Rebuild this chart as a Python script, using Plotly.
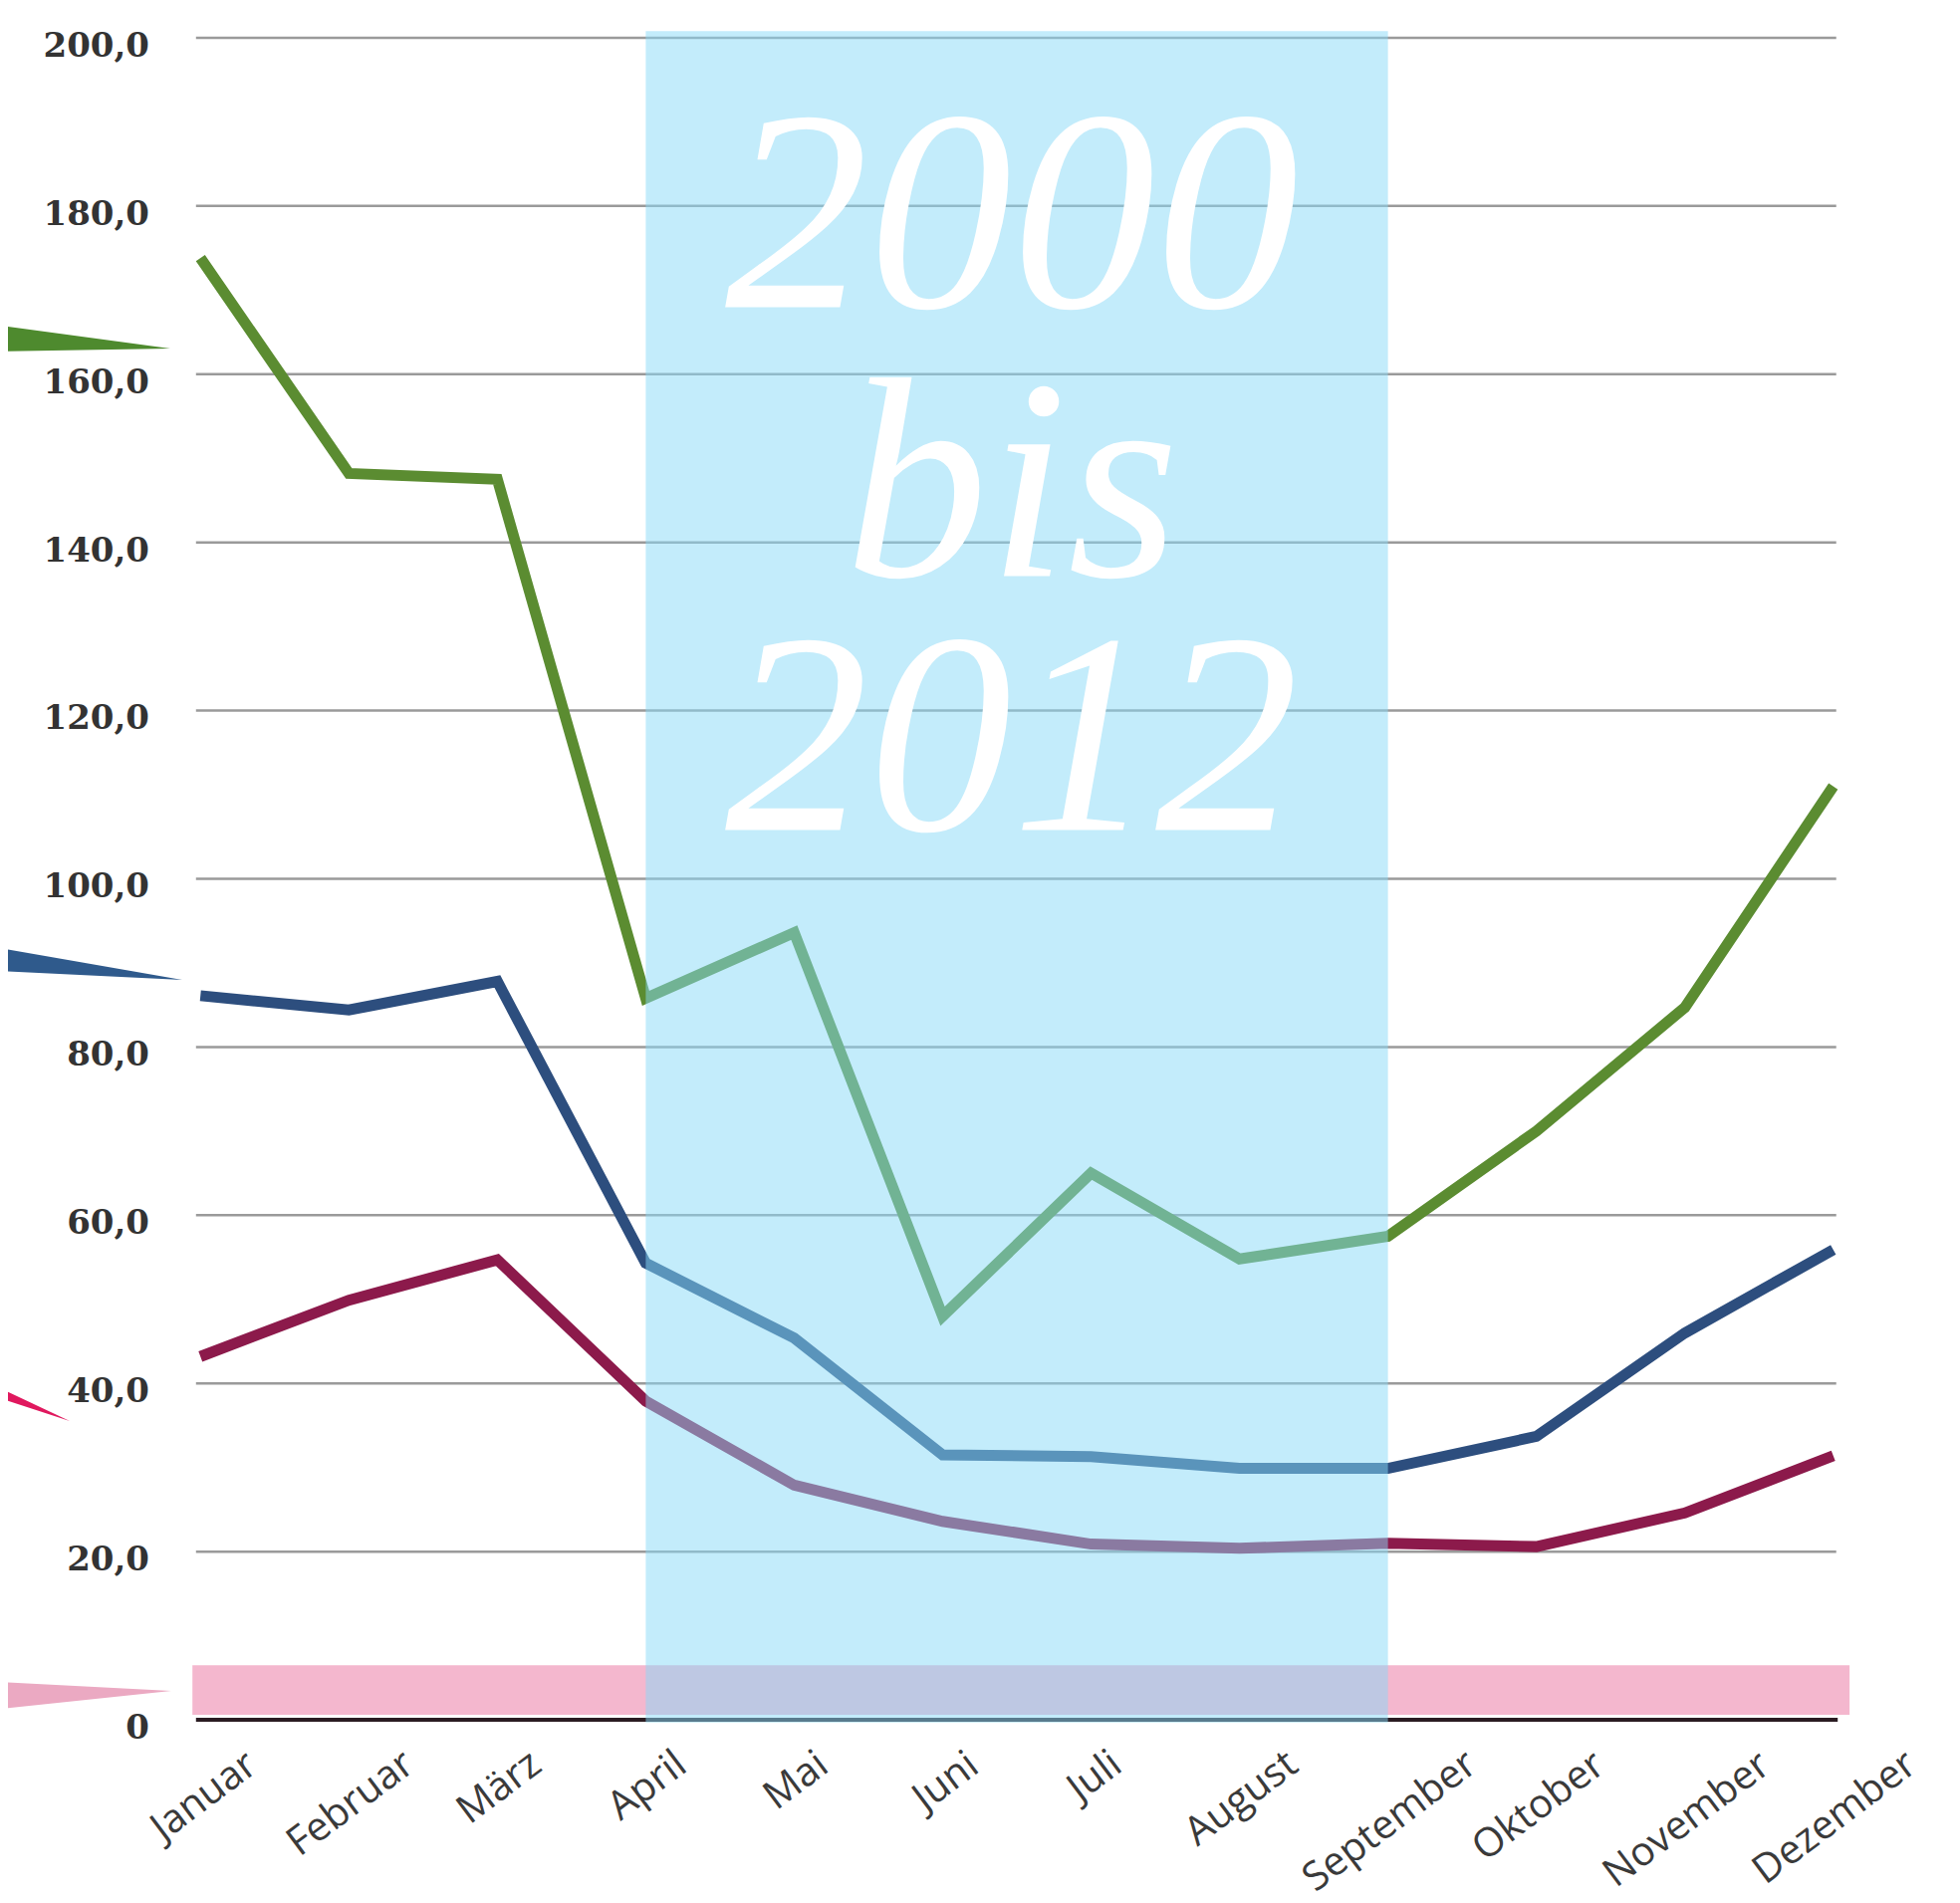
import plotly.graph_objects as go

# ---------------- data ----------------
months = ["Januar", "Februar", "März", "April", "Mai", "Juni", "Juli",
          "August", "September", "Oktober", "November", "Dezember"]
green_vals = [173.8, 148.2, 147.5, 85.8, 93.6, 48.0, 65.0, 54.8, 57.5, 70.0, 84.7, 111.0]
blue_vals = [86.1, 84.4, 87.8, 54.3, 45.4, 31.5, 31.3, 29.9, 29.9, 33.7, 46.0, 55.9]
red_vals = [43.2, 49.9, 54.7, 37.9, 27.9, 23.6, 20.9, 20.4, 21.0, 20.6, 24.6, 31.4]

y_ticks = [0, 20, 40, 60, 80, 100, 120, 140, 160, 180, 200]
y_ticktext = ["0", "20,0", "40,0", "60,0", "80,0", "100,0", "120,0",
              "140,0", "160,0", "180,0", "200,0"]
period_lines = ["2000", "bis", "2012"]
period_y = [179.5, 147.5, 117.4]
period_start, period_end = 3, 8

# ---------------- layout geometry (page pixels) ----------------
PAGE_W, PAGE_H = 1968, 1911
OFF = 8                      # default body margin of the html page
W_FIG, H_FIG = PAGE_W - OFF, PAGE_H - OFF
L, R = 164, 1878             # plot area left/right (page px)
T, B = 21, 1744              # plot area top/bottom (page px)
PW, PH = R - L, B - T


def px(xp):
    return (xp - L) / PW


def py(yp):
    return (B - yp) / PH


GREEN = "#5B8C31"
BLUE = "#2D4E7E"
RED = "#8C1A4B"

fig = go.Figure()
for vals, col in [(green_vals, GREEN), (blue_vals, BLUE), (red_vals, RED)]:
    fig.add_trace(go.Scatter(
        x=list(range(len(months))), y=vals, mode="lines",
        line=dict(color=col, width=11), hoverinfo="skip", showlegend=False))

shapes = []
for v in y_ticks[1:]:
    shapes.append(dict(type="line", xref="x", yref="y", x0=-0.03, x1=11.02,
                       y0=v, y1=v, line=dict(color="#9a9a9a", width=2.5),
                       layer="below"))
shapes.append(dict(type="rect", xref="x", yref="y", x0=-0.054, x1=11.11,
                   y0=0.6, y1=6.5, fillcolor="#F4B7CE", line=dict(width=0),
                   layer="below"))
shapes.append(dict(type="line", xref="x", yref="y", x0=-0.03, x1=11.03,
                   y0=0, y1=0, line=dict(color="#2a1c22", width=4),
                   layer="below"))
shapes.append(dict(type="rect", xref="x", yref="y", x0=period_start, x1=period_end,
                   y0=-0.3, y1=200.8, fillcolor="rgba(135,218,247,0.5)",
                   line=dict(width=0), layer="above"))


def wedge(pts, color):
    d = "M " + " L ".join(f"{px(a):.5f},{py(b):.5f}" for a, b in pts) + " Z"
    return dict(type="path", xref="paper", yref="paper", path=d,
                fillcolor=color, line=dict(width=0), layer="above")


shapes.append(wedge([(0, 327), (171, 350), (0, 353)], "#4E8A2E"))
shapes.append(wedge([(0, 952), (183, 984), (0, 975)], "#2F5A8C"))
shapes.append(wedge([(0, 1394), (70, 1427), (0, 1404)], "#E0185E"))
shapes.append(wedge([(0, 1689), (172, 1698), (0, 1716)], "#EBA9C2"))

annotations = []
for txt, yv in zip(period_lines, period_y):
    annotations.append(dict(
        x=5.466, y=yv, xref="x", yref="y", text=txt, showarrow=False,
        xanchor="center", yanchor="middle", height=250,
        font=dict(family="Liberation Serif", size=288, color="white", style="italic")))

for i, m in enumerate(months):
    annotations.append(dict(
        x=i, y=py(1740), xref="x", yref="paper", text=m, showarrow=False,
        textangle=-37, xanchor="center", yanchor="top",
        font=dict(family="Open Sans", size=40, color="#3a3a3a")))

fig.update_layout(
    width=W_FIG, height=H_FIG, autosize=False,
    margin=dict(l=L - OFF, r=W_FIG - (R - OFF), t=T - OFF, b=H_FIG - (B - OFF)),
    paper_bgcolor="white", plot_bgcolor="white",
    showlegend=False,
    shapes=shapes, annotations=annotations,
    xaxis=dict(range=[-0.25, 11.25], showgrid=False, zeroline=False,
               showticklabels=False, showline=False, ticks=""),
    yaxis=dict(range=[-2, 202], showgrid=False, zeroline=False, showline=False,
               ticks="", tickmode="array", tickvals=y_ticks, ticktext=y_ticktext,
               ticklabelstandoff=13, ticklabelshift=7,
               tickfont=dict(family="DejaVu Serif", size=34, color="#333333",
                             weight="bold")),
)

fig.write_html("out.html")
